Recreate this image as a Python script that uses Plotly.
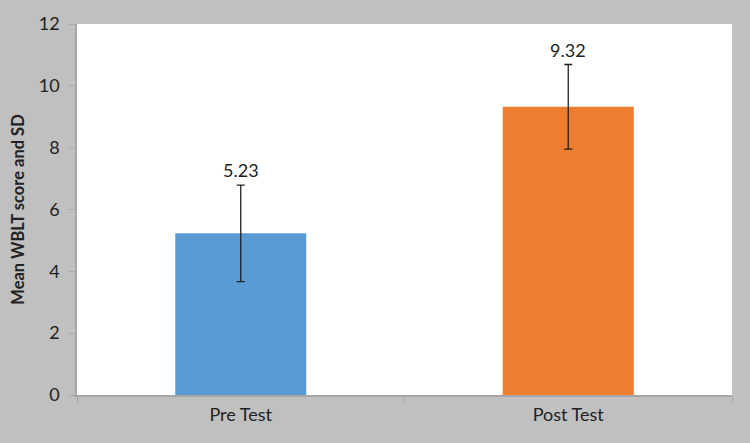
import plotly.graph_objects as go

categories = ["Pre Test", "Post Test"]
means = [5.23, 9.32]
sds = [1.56, 1.37]
colors = ["#5b9bd5", "#ed7d31"]
y_ticks = [0, 2, 4, 6, 8, 10, 12]

fig = go.Figure()
fig.add_trace(go.Bar(
    x=categories, y=means, width=0.4,
    marker=dict(color=colors, line=dict(width=0)),
    error_y=dict(type="data", array=sds, visible=True, color="#222222",
                 thickness=1.3, width=4),
    showlegend=False,
))
for c, m, s in zip(categories, means, sds):
    fig.add_annotation(x=c, y=m + s, text=f"{m:.2f}", showarrow=False,
                       yanchor="bottom", yshift=2,
                       font=dict(family="Lato, Open Sans, sans-serif", size=18, color="#222222"))

fig.update_layout(
    width=750, height=443,
    margin=dict(l=77, r=18, t=17, b=48),
    paper_bgcolor="#c0c0c0",
    plot_bgcolor="#ffffff",
    font=dict(family="Lato, Open Sans, sans-serif", size=18, color="#222222"),
    bargap=0.6,
)
fig.update_xaxes(
    showline=True, linecolor="#a6a6a6", linewidth=1.5,
    ticks="outside", tickson="boundaries", ticklen=6, tickcolor="#a6a6a6",
    showgrid=False, tickfont=dict(size=18), ticklabelstandoff=3,
)
fig.update_yaxes(
    range=[0, 12], tickvals=y_ticks, showline=True, linecolor="#a6a6a6", linewidth=1.5,
    ticks="outside", ticklen=6, tickcolor="#a6a6a6", showgrid=False,
    zeroline=False, tickfont=dict(size=18), ticklabelstandoff=6,
    title=dict(text="<b>Mean WBLT score and SD</b>", font=dict(size=16.5), standoff=10),
)

fig.write_html("out.html")
